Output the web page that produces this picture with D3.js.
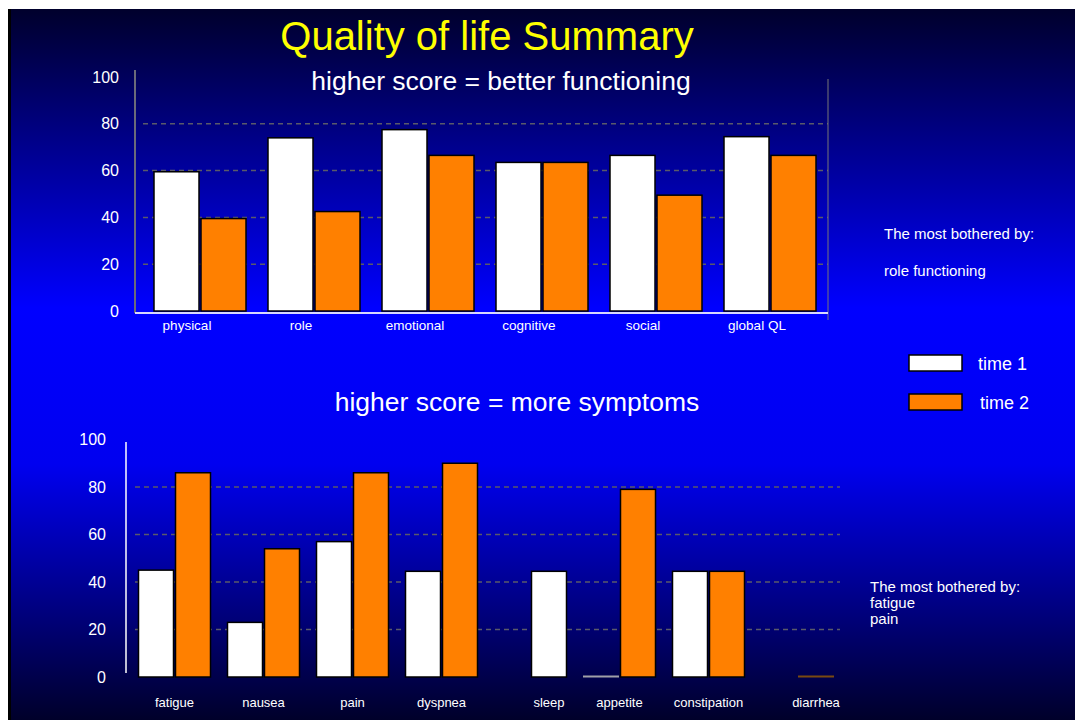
<!DOCTYPE html>
<html>
<head>
<meta charset="utf-8">
<script src="https://cdn.jsdelivr.net/npm/d3@7"></script>
<style>
    body { margin: 0; background: #fff; }
    svg { display: block; font-family: "Liberation Sans", Arial, sans-serif; }
</style>
</head>
<body>
<svg width="1075" height="720"></svg>
<script>
// quality of life scores
var funcCats = ["physical", "role", "emotional", "cognitive", "social", "global QL"];
var funcTime1 = [59.5, 74, 77.5, 63.5, 66.5, 74.5];
var funcTime2 = [39.5, 42.5, 66.5, 63.5, 49.5, 66.5];

var symCats = ["fatigue", "nausea", "pain", "dyspnea", "sleep", "appetite", "constipation", "diarrhea"];
var symTime1 = [45, 23, 57, 44.5, 44.5, 0, 44.5, null];
var symTime2 = [86, 54, 86, 90, null, 79, 44.5, 0];

var series = ["time 1", "time 2"];
var yTicks = [0, 20, 40, 60, 80, 100];

var colors = { "time 1": "#ffffff", "time 2": "#ff8000" };
var zeroStroke = { "time 1": "#a0a0a8", "time 2": "#7a4a10" };

var svg = d3.select("svg"),
    width = +svg.attr("width"),
    height = +svg.attr("height");

// slide background
var defs = svg.append("defs");
var grad = defs.append("linearGradient")
    .attr("id", "bg")
    .attr("x1", 0).attr("y1", 0).attr("x2", 0).attr("y2", 1);
grad.append("stop").attr("offset", 0).attr("stop-color", "#00002c");
grad.append("stop").attr("offset", 0.42).attr("stop-color", "#0000ff");
grad.append("stop").attr("offset", 0.64).attr("stop-color", "#0000f0");
grad.append("stop").attr("offset", 1).attr("stop-color", "#00002a");

svg.append("rect")
    .attr("x", 8).attr("y", 9)
    .attr("width", width - 8).attr("height", height - 9)
    .attr("fill", "url(#bg)");
svg.append("rect")
    .attr("x", 8).attr("y", 9)
    .attr("width", 3).attr("height", height - 9)
    .attr("fill", "#000");

svg.append("text")
    .attr("x", 487).attr("y", 50)
    .attr("text-anchor", "middle")
    .attr("fill", "#ffff00")
    .style("font-size", "40px")
    .text("Quality of life Summary");

function rows(cats, t1, t2) {
    return cats.map(function(c, i) {
        return { cat: c, vals: [{ key: "time 1", v: t1[i] }, { key: "time 2", v: t2[i] }] };
    });
}

// ---------- top chart: functioning ----------
var x0 = d3.scaleBand().domain(funcCats).range([143, 827]);
var x1 = d3.scaleBand().domain(series).range([0, 94]);
var y = d3.scaleLinear().domain([0, 100]).range([311, 77]);
var topChart = svg.append("g");

topChart.append("g")
    .selectAll("line")
    .data(yTicks.slice(1, -1))
    .enter().append("line")
    .attr("x1", 143).attr("x2", 828)
    .attr("y1", y).attr("y2", y)
    .attr("stroke", "#5a5a6a")
    .attr("stroke-width", 1.5)
    .attr("stroke-dasharray", "5,4");

topChart.append("line")
    .attr("x1", 828).attr("x2", 828).attr("y1", 79).attr("y2", 320)
    .attr("stroke", "#777").attr("stroke-width", 1);

var fGroups = topChart.append("g")
    .selectAll("g")
    .data(rows(funcCats, funcTime1, funcTime2))
    .enter().append("g")
    .attr("transform", function(d) { return "translate(" + (x0(d.cat) + (x0.bandwidth() - 94) / 2) + ",0)"; });

fGroups.selectAll("rect")
    .data(function(d) { return d.vals; })
    .enter().append("rect")
    .attr("x", function(d) { return x1(d.key) + 1; })
    .attr("width", x1.bandwidth() - 2)
    .attr("y", function(d) { return y(d.v); })
    .attr("height", function(d) { return y(0) - y(d.v); })
    .attr("fill", function(d) { return colors[d.key]; })
    .attr("stroke", "#000")
    .attr("stroke-width", 1.5);

var yAxisTop = topChart.append("g")
    .attr("transform", "translate(135,0)")
    .call(d3.axisLeft(y).tickValues(yTicks).tickSize(0).tickPadding(16));
yAxisTop.select(".domain").remove();
yAxisTop.selectAll("text")
    .attr("fill", "#fff")
    .style("font-size", "16px")
    .style("font-family", "Liberation Sans, Arial, sans-serif");

topChart.append("line")
    .attr("x1", 135).attr("x2", 135).attr("y1", 70).attr("y2", 313)
    .attr("stroke", "#6a6a7a").attr("stroke-width", 2);
topChart.append("line")
    .attr("x1", 135).attr("x2", 828).attr("y1", 313).attr("y2", 313)
    .attr("stroke", "#d8d8ff").attr("stroke-width", 2);

topChart.append("g")
    .selectAll("text")
    .data(funcCats)
    .enter().append("text")
    .attr("x", function(d) { return x0(d) + x0.bandwidth() / 2 - 13; })
    .attr("y", 330)
    .attr("text-anchor", "middle")
    .attr("fill", "#fff")
    .style("font-size", "13.5px")
    .text(function(d) { return d; });

svg.append("text")
    .attr("x", 501).attr("y", 90)
    .attr("text-anchor", "middle")
    .attr("fill", "#fff")
    .style("font-size", "26.5px")
    .text("higher score = better functioning");

// ---------- bottom chart: symptoms ----------
var sx0 = d3.scaleBand().domain(symCats).range([130, 842]);
var sx1 = d3.scaleBand().domain(series).range([0, 74]);
var sy = d3.scaleLinear().domain([0, 100]).range([677, 439.5]);
var bottomChart = svg.append("g");

bottomChart.append("g")
    .selectAll("line")
    .data(yTicks.slice(1, -1))
    .enter().append("line")
    .attr("x1", 135).attr("x2", 840)
    .attr("y1", sy).attr("y2", sy)
    .attr("stroke", "#5a5a6a")
    .attr("stroke-width", 1.5)
    .attr("stroke-dasharray", "5,4");

// a lone bar sits in the right-hand slot, as on the original slide
function slotX(row, d) {
    var present = row.vals.filter(function(v) { return v.v != null; });
    return present.length === 1 ? sx1("time 2") : sx1(d.key);
}
function rowStart(row) { return sx0(row.cat) + (sx0.bandwidth() - 74) / 2; }

var symRows = rows(symCats, symTime1, symTime2);

var sGroups = bottomChart.append("g")
    .selectAll("g")
    .data(symRows)
    .enter().append("g")
    .attr("transform", function(d) { return "translate(" + rowStart(d) + ",0)"; });

sGroups.selectAll("rect")
    .data(function(d) {
        return d.vals.filter(function(v) { return v.v != null; })
            .map(function(v) { return { key: v.key, v: v.v, row: d }; });
    })
    .enter().append("rect")
    .attr("x", function(d) { return slotX(d.row, d) + 1; })
    .attr("width", sx1.bandwidth() - 2)
    .attr("y", function(d) { return Math.min(sy(d.v), sy(0) - 1); })
    .attr("height", function(d) { return Math.max(1, sy(0) - sy(d.v)); })
    .attr("fill", function(d) { return colors[d.key]; })
    .attr("stroke", function(d) { return d.v === 0 ? zeroStroke[d.key] : "#000"; })
    .attr("stroke-width", function(d) { return d.v === 0 ? 1 : 1.5; });

var yAxisBot = bottomChart.append("g")
    .attr("transform", "translate(126,0)")
    .call(d3.axisLeft(sy).tickValues(yTicks).tickSize(0).tickPadding(20));
yAxisBot.select(".domain").remove();
yAxisBot.selectAll("text")
    .attr("fill", "#fff")
    .style("font-size", "16px")
    .style("font-family", "Liberation Sans, Arial, sans-serif");

bottomChart.append("line")
    .attr("x1", 126).attr("x2", 126).attr("y1", 442).attr("y2", 673)
    .attr("stroke", "#fff").attr("stroke-width", 1.5);

bottomChart.append("g")
    .selectAll("text")
    .data(symRows)
    .enter().append("text")
    .attr("x", function(d) {
        var present = d.vals.filter(function(v) { return v.v != null; });
        if (present.length === 1) return rowStart(d) + sx1("time 2") + sx1.bandwidth() / 2;
        return sx0(d.cat) + sx0.bandwidth() / 2;
    })
    .attr("y", 707)
    .attr("text-anchor", "middle")
    .attr("fill", "#fff")
    .style("font-size", "13px")
    .text(function(d) { return d.cat; });

svg.append("text")
    .attr("x", 517).attr("y", 411)
    .attr("text-anchor", "middle")
    .attr("fill", "#fff")
    .style("font-size", "26.5px")
    .text("higher score = more symptoms");

// ---------- notes and legend ----------
svg.append("text").attr("x", 884).attr("y", 239)
    .attr("fill", "#fff").style("font-size", "15px")
    .text("The most bothered by:");
svg.append("text").attr("x", 884).attr("y", 276)
    .attr("fill", "#fff").style("font-size", "15px")
    .text("role functioning");

var note2 = svg.append("text").attr("x", 870).attr("y", 592)
    .attr("fill", "#fff").style("font-size", "15px");
["The most bothered by:", "fatigue", "pain"].forEach(function(t, i) {
    note2.append("tspan").attr("x", 870).attr("dy", i ? 16 : 0).text(t);
});

var legend = svg.append("g")
    .selectAll("g")
    .data(series)
    .enter().append("g")
    .attr("transform", function(d, i) { return "translate(909," + (355 + i * 39) + ")"; });

legend.append("rect")
    .attr("width", 53)
    .attr("height", 16)
    .attr("fill", function(d) { return colors[d]; })
    .attr("stroke", "#000")
    .attr("stroke-width", 1.5);

legend.append("text")
    .attr("x", function(d, i) { return 69 + i * 2; })
    .attr("y", 9)
    .attr("dy", "0.35em")
    .attr("fill", "#fff")
    .style("font-size", "18px")
    .text(function(d) { return d; });
</script>
</body>
</html>
